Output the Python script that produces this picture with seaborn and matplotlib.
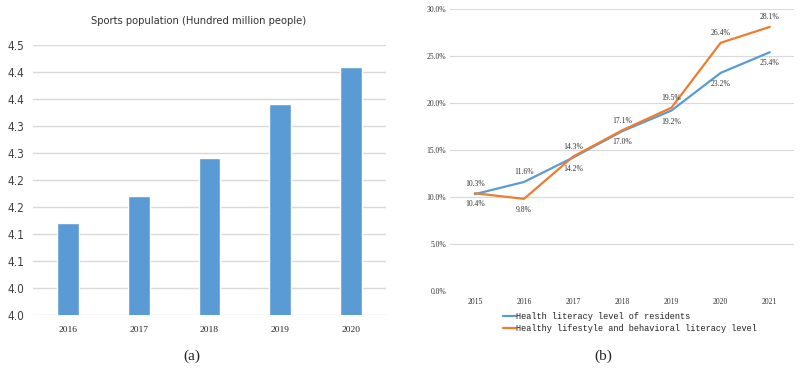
import matplotlib
matplotlib.use("Agg")
import matplotlib.pyplot as plt
import seaborn as sns
import pandas as pd

# ---- data ----
years_a = ["2016", "2017", "2018", "2019", "2020"]
sports_pop = [4.17, 4.22, 4.29, 4.39, 4.46]
yticks_a = [4.00, 4.05, 4.10, 4.15, 4.20, 4.25, 4.30, 4.35, 4.40, 4.45, 4.50]
yticklabels_a = ["4.0", "4.0", "4.1", "4.1", "4.2", "4.2", "4.3", "4.3", "4.4", "4.4", "4.5"]

years_b = ["2015", "2016", "2017", "2018", "2019", "2020", "2021"]
health_lit = [10.3, 11.6, 14.2, 17.0, 19.2, 23.2, 25.4]
lifestyle_lit = [10.4, 9.8, 14.3, 17.1, 19.5, 26.4, 28.1]
health_label_pos = ["above", "above", "below", "below", "below", "below", "below"]
life_label_pos = ["below", "below", "above", "above", "above", "above", "above"]
yticks_b = [0, 5, 10, 15, 20, 25, 30]

sns.set_theme(style="white")
serif = "Liberation Serif"
mono = "Liberation Mono"

BLUE = "#5b9bd5"
ORANGE = "#ed7d31"
GRID = "#d9d9d9"

fig = plt.figure(figsize=(8.04, 3.69), dpi=100)

# ---- (a) bar chart ----
ax1 = fig.add_axes([0.041, 0.1463, 0.439, 0.7317])
df_a = pd.DataFrame({"year": years_a, "pop": sports_pop})
sns.barplot(data=df_a, x="year", y="pop", color=BLUE, width=0.31,
            saturation=1, ax=ax1, zorder=3)
ax1.set_ylim(4.0, 4.5)
ax1.set_xlim(-0.5, 4.5)
ax1.set_yticks(yticks_a)
ax1.set_yticklabels(yticklabels_a, fontsize=8.5, color="#404040", fontstretch="condensed")
ax1.set_xticklabels(years_a, family=serif, fontsize=6.8, color="#222222")
ax1.set_xlabel("")
ax1.set_ylabel("")
ax1.yaxis.grid(True, color=GRID, linewidth=1, zorder=0)
for s in ax1.spines.values():
    s.set_visible(False)
ax1.tick_params(axis="x", length=0, pad=8)
ax1.tick_params(axis="y", length=0, pad=6)
fig.text(199 / 804, 1 - 21 / 369, "Sports population (Hundred million people)",
         ha="center", va="center", fontsize=8.0, fontstretch="condensed", color="#333333")

# ---- (b) line chart ----
ax2 = fig.add_axes([0.560, 0.2114, 0.428, 0.7642])
df_b = pd.DataFrame({"year": years_b * 2,
                     "value": health_lit + lifestyle_lit,
                     "series": ["Health literacy level of residents"] * len(years_b)
                     + ["Healthy lifestyle and behavioral literacy level"] * len(years_b)})
sns.lineplot(data=df_b, x="year", y="value", hue="series",
             palette=[BLUE, ORANGE], linewidth=1.6, ax=ax2, zorder=3, sort=False)
ax2.set_ylim(0, 30)
ax2.set_xlim(-0.5, 6.5)
ax2.set_yticks(yticks_b)
ax2.set_yticklabels([f"{v:.1f}%" for v in yticks_b], family=serif, fontsize=5.5, color="#333333")
ax2.set_xticks(range(len(years_b)))
ax2.set_xticklabels(years_b, family=serif, fontsize=5.5, color="#333333")
ax2.set_xlabel("")
ax2.set_ylabel("")
ax2.yaxis.grid(True, color=GRID, linewidth=0.8, zorder=0)
for s in ax2.spines.values():
    s.set_visible(False)
ax2.tick_params(axis="both", length=0)
ax2.tick_params(axis="y", pad=3)
ax2.tick_params(axis="x", pad=5)

for i, (v, p) in enumerate(zip(health_lit, health_label_pos)):
    ax2.annotate(f"{v:.1f}%", (i, v), xytext=(0, 7 if p == "above" else -8),
                 textcoords="offset points", ha="center", va="center",
                 fontsize=5.5, family=serif, color="#333333")
for i, (v, p) in enumerate(zip(lifestyle_lit, life_label_pos)):
    ax2.annotate(f"{v:.1f}%", (i, v), xytext=(0, 7 if p == "above" else -8),
                 textcoords="offset points", ha="center", va="center",
                 fontsize=5.5, family=serif, color="#333333")

leg = ax2.legend(loc="upper left", bbox_to_anchor=(0.14, -0.058), frameon=False,
                 prop={"family": mono, "size": 6.2}, handlelength=1.55,
                 handletextpad=0.0, labelspacing=0.35, borderpad=0, title=None)
for t in leg.get_texts():
    t.set_color("#222222")

# captions
fig.text(192 / 804, 1 - 356 / 369, "(a)", ha="center", va="center", fontsize=11, family=serif)
fig.text(603 / 804, 1 - 356 / 369, "(b)", ha="center", va="center", fontsize=11, family=serif)

fig.savefig("out.png", dpi=100)
